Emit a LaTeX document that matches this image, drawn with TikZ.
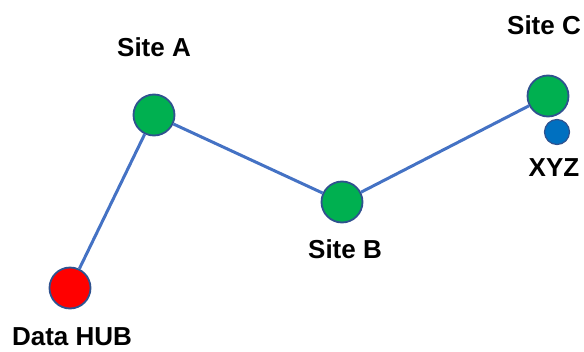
\documentclass[tikz,border=0pt]{standalone}
\usepackage{fontspec}
\setmainfont{Liberation Sans}
\definecolor{linkc}{HTML}{4472C4}
\definecolor{edgec}{HTML}{2F528F}
\definecolor{sitegreen}{HTML}{00B050}
\definecolor{hubred}{HTML}{FF0000}
\definecolor{xyzblue}{HTML}{0070C0}
\begin{document}
\begin{tikzpicture}[x=1pt,y=-1pt,
  site/.style={circle,draw=edgec,line width=1.8pt,fill=sitegreen,minimum size=41pt,inner sep=0pt},
  hub/.style={site,fill=hubred},
  small/.style={circle,draw=edgec,line width=1.2pt,fill=xyzblue,minimum size=25pt,inner sep=0pt},
  lbl/.style={font=\fontsize{26}{28}\selectfont\bfseries,inner sep=0pt,anchor=center},
  link/.style={draw=linkc,line width=3pt}]
\useasboundingbox (0,0) rectangle (584,351);
\node[hub] (hub) at (70,288) {};
\node[site] (a) at (154,115) {};
\node[site] (b) at (342,202) {};
\node[site] (c) at (548,96) {};
\node[small] (xyz) at (557,132) {};
\begin{scope}[on background layer/.try]
\end{scope}
\draw[link] (hub) -- (a);
\draw[link] (a) -- (b);
\draw[link] (b) -- (c);
\node[lbl] (lhub) at (72,337) {Data HUB};
\node[lbl] (la) at (154,47) {Site A};
\node[lbl] (lb) at (345,249) {Site B};
\node[lbl] (lc) at (544,25) {Site C};
\node[lbl] (lx) at (554,168) {XYZ};
\end{tikzpicture}
\end{document}
